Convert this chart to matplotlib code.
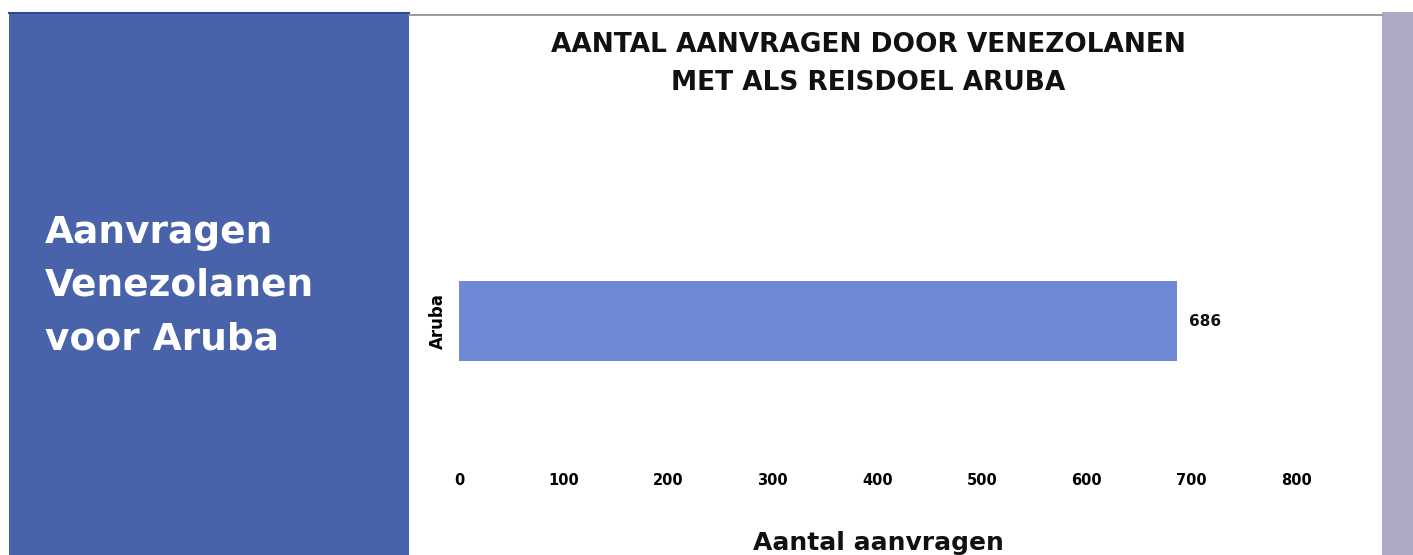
import matplotlib
matplotlib.use("Agg")
import matplotlib.pyplot as plt
from matplotlib.patches import Rectangle
from matplotlib.lines import Line2D

categories = ["Aruba"]
values = [686]
xticks = [0, 100, 200, 300, 400, 500, 600, 700, 800]
title = "AANTAL AANVRAGEN DOOR VENEZOLANEN\nMET ALS REISDOEL ARUBA"
xlabel = "Aantal aanvragen"
panel_text = "Aanvragen\nVenezolanen\nvoor Aruba"

FONT = "DejaVu Sans"
W, H = 1413, 555
fig = plt.figure(figsize=(W / 100, H / 100), dpi=100)
fig.patch.set_facecolor("white")

def px(x, y, w, h):
    return [x / W, 1 - (y + h) / H, w / W, h / H]

# side panels
fig.patches.append(Rectangle((9 / W, 0), 400 / W, 1 - 12 / H, transform=fig.transFigure,
                             facecolor="#4863aa", edgecolor="none", zorder=0))
fig.patches.append(Rectangle((1382 / W, 0), 31 / W, 1 - 12 / H, transform=fig.transFigure,
                             facecolor="#aeaac3", edgecolor="none", zorder=0))
fig.lines.append(Line2D([9 / W, 409 / W], [1 - 13 / H, 1 - 13 / H], transform=fig.transFigure,
                        color="#2f4a8a", lw=1.5))
fig.lines.append(Line2D([409 / W, 1382 / W], [1 - 15 / H, 1 - 15 / H], transform=fig.transFigure,
                        color="#888888", lw=1.2))

fig.text(45 / W, 1 - 286 / H, panel_text, color="white", fontsize=27, fontweight="bold",
         family=FONT, ha="left", va="center", linespacing=1.62)

fig.text(868 / W, 1 - 64 / H, title, color="#111111", fontsize=19, fontweight="bold",
         family=FONT, ha="center", va="center", linespacing=1.55)

ax = fig.add_axes(px(459, 201, 837, 240))
ax.barh(range(len(categories)), values, height=1.0, color="#6f8ad4")
ax.set_xlim(0, 800)
ax.set_ylim(-1.5, 1.5)
for s in ax.spines.values():
    s.set_visible(False)
ax.set_xticks(xticks)
ax.set_xticklabels([str(t) for t in xticks], fontsize=10.5, fontweight="bold", family=FONT)
ax.tick_params(axis="x", length=0, pad=23)
ax.set_yticks(range(len(categories)))
ax.set_yticklabels(categories, rotation=90, va="center", fontsize=12, fontweight="bold", family=FONT)
ax.tick_params(axis="y", length=0, pad=9)
ax.bar_label(ax.containers[0], labels=[str(v) for v in values], padding=9,
             fontsize=11, fontweight="bold", family=FONT, color="#111111")

fig.text(878 / W, 1 - 543 / H, xlabel, fontsize=18, fontweight="bold", family=FONT,
         ha="center", va="center", color="#111111")

fig.savefig("out.png", dpi=100)
